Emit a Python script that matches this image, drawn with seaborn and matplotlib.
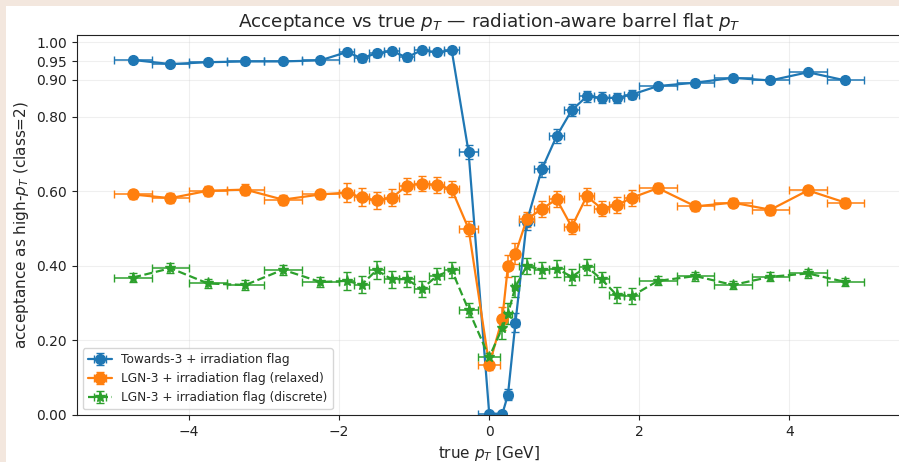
import matplotlib
matplotlib.use("Agg")
import matplotlib.pyplot as plt
import numpy as np
import seaborn as sns
from matplotlib.patches import Rectangle

# bin edges in true pT [GeV]
bin_edges = [-5.0, -4.5, -4.0, -3.5, -3.0, -2.5, -2.0, -1.8, -1.6, -1.4, -1.2, -1.0,
             -0.8, -0.6, -0.4, -0.15, 0.15, 0.2, 0.3, 0.4, 0.6, 0.8, 1.0, 1.2, 1.4,
             1.6, 1.8, 2.0, 2.5, 3.0, 3.5, 4.0, 4.5, 5.0]

towards_acc = [0.953, 0.942, 0.947, 0.949, 0.949, 0.952, 0.974, 0.958, 0.971, 0.977, 0.960,
               0.979, 0.974, 0.979, 0.706, 0.004, 0.003, 0.054, 0.248, 0.518, 0.659, 0.749,
               0.818, 0.855, 0.852, 0.851, 0.860, 0.883, 0.892, 0.905, 0.898, 0.920, 0.898]
towards_err = [0.005, 0.006, 0.006, 0.006, 0.006, 0.006, 0.008, 0.010, 0.009, 0.008, 0.010,
               0.008, 0.008, 0.008, 0.018, 0.004, 0.004, 0.015, 0.025, 0.022, 0.020, 0.018,
               0.016, 0.014, 0.014, 0.014, 0.013, 0.008, 0.008, 0.008, 0.008, 0.007, 0.008]

relaxed_acc = [0.592, 0.582, 0.602, 0.605, 0.578, 0.592, 0.597, 0.584, 0.576, 0.583, 0.615,
               0.621, 0.618, 0.606, 0.500, 0.134, 0.259, 0.400, 0.433, 0.525, 0.553, 0.579,
               0.505, 0.587, 0.554, 0.563, 0.583, 0.609, 0.560, 0.570, 0.551, 0.603, 0.570]
relaxed_err = [0.013, 0.013, 0.013, 0.014, 0.013, 0.013, 0.025, 0.024, 0.023, 0.023, 0.022,
               0.021, 0.021, 0.022, 0.020, 0.012, 0.030, 0.030, 0.028, 0.020, 0.022, 0.021,
               0.020, 0.022, 0.021, 0.021, 0.022, 0.013, 0.013, 0.013, 0.013, 0.013, 0.013]

discrete_acc = [0.369, 0.394, 0.353, 0.349, 0.390, 0.357, 0.360, 0.350, 0.389, 0.364, 0.365,
                0.338, 0.373, 0.389, 0.282, 0.155, 0.234, 0.272, 0.344, 0.400, 0.390, 0.393,
                0.371, 0.398, 0.364, 0.322, 0.319, 0.360, 0.373, 0.349, 0.371, 0.380, 0.357]
discrete_err = [0.013, 0.013, 0.013, 0.013, 0.013, 0.013, 0.025, 0.022, 0.024, 0.022, 0.022,
                0.021, 0.022, 0.022, 0.018, 0.012, 0.030, 0.028, 0.028, 0.022, 0.022, 0.022,
                0.021, 0.022, 0.021, 0.021, 0.021, 0.012, 0.012, 0.012, 0.012, 0.012, 0.012]

labels = ["Towards-3 + irradiation flag",
          "LGN-3 + irradiation flag (relaxed)",
          "LGN-3 + irradiation flag (discrete)"]
y_ticks = [0.0, 0.2, 0.4, 0.6, 0.8, 0.9, 0.95, 1.0]

edges = np.array(bin_edges)
centers = 0.5 * (edges[1:] + edges[:-1])
half_w = 0.5 * (edges[1:] - edges[:-1])

sns.set_style("ticks")
colors = sns.color_palette("tab10", 3)

fig = plt.figure(figsize=(8.99, 4.62), dpi=100)
fig.patch.set_facecolor("#f3e7de")
fig.patches.append(Rectangle((6 / 899, 0), 1, 1 - 6 / 462, transform=fig.transFigure,
                             facecolor="white", edgecolor="none", zorder=-1))
ax = fig.add_axes([76.7 / 899, 47 / 462, 825 / 899, 380 / 462])

series = [(towards_acc, towards_err, "o", "-", 7),
          (relaxed_acc, relaxed_err, "o", "-", 8),
          (discrete_acc, discrete_err, "*", "--", 8)]
for (acc, err, mk, ls, ms), lab, c in zip(series, labels, colors):
    ax.errorbar(centers, acc, xerr=half_w, yerr=err, fmt=mk, linestyle=ls, color=c,
                markersize=ms, linewidth=1.6, elinewidth=1.1, capsize=3, label=lab)

ax.set_xlim(-5.5, 5.5)
ax.set_ylim(0, 1.02)
ax.set_yticks(y_ticks)
ax.set_yticklabels([f"{t:.2f}" for t in y_ticks])
ax.tick_params(labelsize=10, colors="#222222")
ax.grid(True, alpha=0.3)
for s in ax.spines.values():
    s.set_color("#222222")

ax.set_xlabel(r"true $p_T$ [GeV]", fontsize=11)
ax.set_ylabel(r"acceptance as high-$p_T$ (class=2)", fontsize=11)
ax.set_title(r"Acceptance vs true $p_T$ — radiation-aware barrel flat $p_T$", fontsize=13.2)
ax.legend(loc="lower left", fontsize=8.7)

fig.savefig("out.png", dpi=100, facecolor=fig.get_facecolor())
